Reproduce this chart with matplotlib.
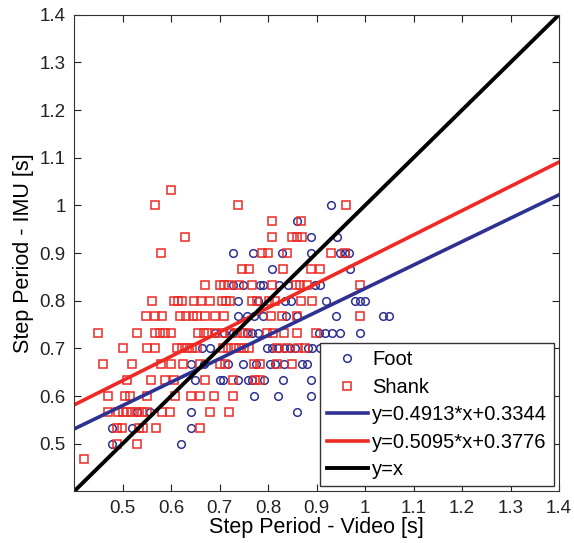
import numpy as np
import matplotlib
matplotlib.use('Agg')
from matplotlib import pyplot as plt
from matplotlib.ticker import FormatStrFormatter

plt.rcParams['font.family'] = ['Liberation Sans', 'DejaVu Sans']

# ---- Foot (circles): x values grouped by IMU level ----
foot_x = [0.930,
          0.859,
          0.889, 0.942,
          0.728, 0.768, 0.828, 0.889, 0.948, 0.959, 0.966,
          0.809, 0.969,
          0.728, 0.748, 0.784, 0.790, 0.823, 0.842, 0.897, 0.907,
          0.737, 0.780, 0.835, 0.847, 0.919, 0.979, 0.990, 1.000,
          0.737, 0.756, 0.770, 0.790, 0.837, 0.859, 0.941, 1.038, 1.049,
          0.690, 0.710, 0.728, 0.756, 0.766, 0.780, 0.906, 0.918, 0.931, 0.948, 0.990,
          0.663, 0.680, 0.797, 0.808, 0.820, 0.832, 0.845, 0.856, 0.883, 0.890, 0.907, 0.931, 0.959, 0.966,
          0.641, 0.667, 0.718, 0.749, 0.775, 0.804, 0.814, 0.832, 0.869, 0.880,
          0.649, 0.701, 0.708, 0.737, 0.759, 0.766, 0.792, 0.830, 0.889,
          0.770, 0.821, 0.889,
          0.530, 0.557, 0.641, 0.859,
          0.479, 0.520, 0.642,
          0.479, 0.620]
foot_y = ([1.0] * 1 + [0.967] * 1 + [0.933] * 2 + [0.9] * 7 + [0.867] * 2
          + [0.833] * 8 + [0.8] * 8 + [0.767] * 9 + [0.733] * 11 + [0.7] * 14
          + [0.667] * 10 + [0.633] * 9 + [0.6] * 3 + [0.567] * 4 + [0.533] * 3
          + [0.5] * 2)

# ---- Shank (squares) ----
shank_x = [0.600,
           0.567, 0.739, 0.960,
           0.809, 0.868,
           0.629, 0.809, 0.849, 0.859, 0.869,
           0.580, 0.787, 0.799, 0.839, 0.930, 0.959,
           0.746, 0.761, 0.830, 0.889, 0.907,
           0.669, 0.700, 0.710, 0.720, 0.740, 0.766, 0.808, 0.857, 0.866, 0.880, 0.990,
           0.560, 0.607, 0.615, 0.622, 0.648, 0.661, 0.680, 0.705, 0.714, 0.722, 0.766, 0.777, 0.801, 0.814, 0.868, 0.890,
           0.549, 0.566, 0.582, 0.619, 0.631, 0.646, 0.653, 0.669, 0.690, 0.709, 0.806, 0.829, 0.859, 0.990,
           0.449, 0.529, 0.567, 0.577, 0.588, 0.600, 0.656, 0.667, 0.677, 0.691, 0.708, 0.722, 0.735, 0.749, 0.759, 0.797, 0.811, 0.832, 0.859, 0.899,
           0.500, 0.550, 0.567, 0.612, 0.622, 0.632, 0.643, 0.653, 0.708, 0.718, 0.730, 0.740, 0.750, 0.761, 0.818, 0.839, 0.861, 0.876, 0.921,
           0.460, 0.520, 0.579, 0.600, 0.625, 0.660, 0.701, 0.711, 0.770, 0.784, 0.819, 0.849,
           0.509, 0.559, 0.588, 0.607, 0.669, 0.728, 0.773, 0.784,
           0.471, 0.505, 0.515, 0.551, 0.609, 0.641, 0.659, 0.688, 0.728,
           0.471, 0.491, 0.500, 0.509, 0.520, 0.529, 0.540, 0.550, 0.581, 0.598, 0.680, 0.720,
           0.488, 0.498, 0.533, 0.543, 0.568, 0.660,
           0.489, 0.530,
           0.421]
shank_y = ([1.033] * 1 + [1.0] * 3 + [0.967] * 2 + [0.933] * 5 + [0.9] * 6
           + [0.867] * 5 + [0.833] * 11 + [0.8] * 16 + [0.767] * 14 + [0.733] * 20
           + [0.7] * 19 + [0.667] * 12 + [0.633] * 8 + [0.6] * 9 + [0.567] * 12
           + [0.533] * 6 + [0.5] * 2 + [0.467] * 1)

# regression fits from the legend
foot_fit = (0.4913, 0.3344)
shank_fit = (0.5095, 0.3776)
ticks = [0.5, 0.6, 0.7, 0.8, 0.9, 1.0, 1.1, 1.2, 1.3, 1.4]

blue = '#2E3192'
red = '#EE2A24'

fig = plt.figure(figsize=(5.74, 5.43), dpi=100)
ax = fig.add_axes([0.129, 0.095, 0.845, 0.878])

ax.plot(foot_x, foot_y, 'o', mfc='none', mec=blue, ms=5.5, mew=1.1, label='Foot')
ax.plot(shank_x, shank_y, 's', mfc='none', mec=red, ms=6, mew=1.1, label='Shank')

xx = np.array([0.4, 1.4])
ax.plot(xx, foot_fit[0] * xx + foot_fit[1], color=blue, lw=2.6,
        label='y=%.4f*x+%.4f' % foot_fit)
ax.plot(xx, shank_fit[0] * xx + shank_fit[1], color=red, lw=2.6,
        label='y=%.4f*x+%.4f' % shank_fit)
ax.plot(xx, xx, color='black', lw=2.8, label='y=x')

ax.set_xlim(0.4, 1.4)
ax.set_ylim(0.4, 1.4)
ax.set_xticks(ticks)
ax.set_yticks(ticks)
ax.xaxis.set_major_formatter(FormatStrFormatter('%g'))
ax.yaxis.set_major_formatter(FormatStrFormatter('%g'))
ax.tick_params(direction='in', top=True, right=True, length=5, labelsize=13.5,
               colors='#222222', pad=6)
for s in ax.spines.values():
    s.set_color('#333333')

ax.set_xlabel('Step Period - Video [s]', fontsize=15.5, labelpad=0)
ax.set_ylabel('Step Period - IMU [s]', fontsize=15.5, labelpad=4)

leg = ax.legend(loc='lower right', fontsize=14.5, frameon=True, fancybox=False,
                edgecolor='#333333', framealpha=1, handlelength=2.05,
                handletextpad=0.2, borderpad=0.35, labelspacing=0.42,
                borderaxespad=0.25)
leg.get_frame().set_linewidth(1.0)

plt.savefig('out.png', dpi=100)
